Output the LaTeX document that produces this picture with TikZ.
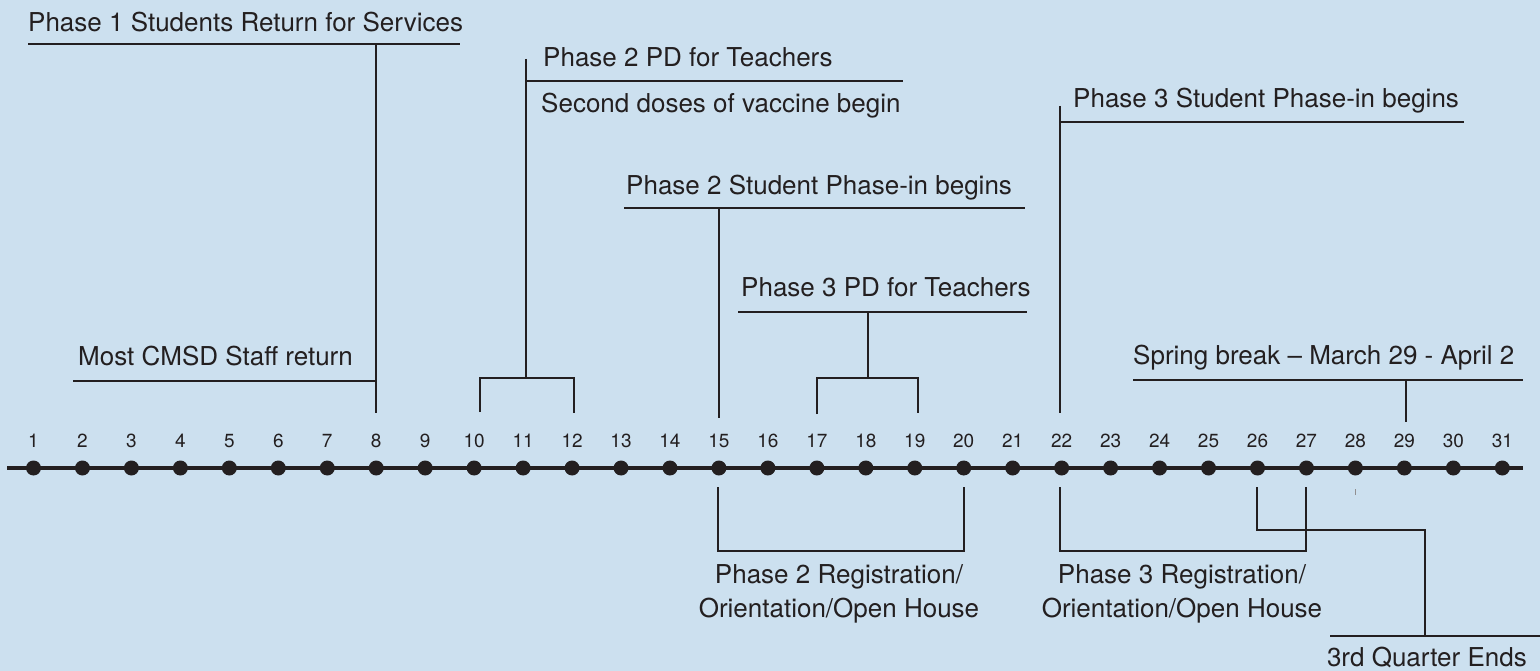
\documentclass[tikz,border=0pt]{standalone}
\usepackage{fontspec}
\setmainfont{TeX Gyre Heros}
\definecolor{bg}{HTML}{CCE0EF}
\definecolor{ink}{HTML}{231F20}
\begin{document}
\begin{tikzpicture}[x=1pt,y=-1pt,
  lbl/.style={font=\fontsize{26}{30}\selectfont, text=ink, inner sep=0pt, anchor=base west},
  lblc/.style={lbl, anchor=base},
  lble/.style={lbl, anchor=base east},
  num/.style={font=\fontsize{19}{21}\selectfont, text=ink, inner sep=0pt, anchor=base},
  ln/.style={draw=ink, line width=2.8pt},
  dot/.style={circle, fill=ink, minimum size=15pt, inner sep=0pt}]
\fill[bg] (0,0) rectangle (1540,671);
\useasboundingbox (0,0) rectangle (1540,671);

% timeline
\coordinate (tl) at (7,468); \coordinate (tr) at (1523,468);
\draw[ln, line width=3.2pt] (tl) -- (tr);
\foreach \i in {1,...,31} {
  \pgfmathsetmacro\xx{33.5+(\i-1)*48.96}
  \node[dot] (d\i) at (\xx,468) {};
  \node[num] (n\i) at (\xx,447) {\i};
}

% Phase 1
\node[lbl] (p1) at (28,32) {Phase 1 Students Return for Services};
\coordinate (p1a) at (28,44); \coordinate (p1b) at (460,44);
\coordinate (s8t) at (376,44); \coordinate (s8b) at (376,413);
\draw[ln] (p1a) -- (p1b);
\draw[ln] (s8t) -- (s8b);

% Most CMSD staff
\node[lbl] (ms) at (78,365) {Most CMSD Staff return};
\coordinate (msa) at (73,381); \coordinate (msb) at (376,381);
\draw[ln] (msa) -- (msb);

% Phase 2 PD
\node[lbl] (p2pd) at (543,67) {Phase 2 PD for Teachers};
\node[lbl] (sd) at (541,113) {Second doses of vaccine begin};
\coordinate (pdt) at (526,59); \coordinate (pdb) at (526,378);
\coordinate (pdl) at (526,81); \coordinate (pdr) at (903,81);
\draw[ln] (pdt) -- (pdb);
\draw[ln] (pdl) -- (pdr);
\coordinate (b1a) at (480,412); \coordinate (b1b) at (480,378);
\coordinate (b1c) at (574,378); \coordinate (b1d) at (574,413);
\draw[ln] (b1a) -- (b1b) -- (b1c) -- (b1d);

% Phase 2 Student
\node[lbl] (p2s) at (626,195) {Phase 2 Student Phase-in begins};
\coordinate (p2a) at (624,208); \coordinate (p2b) at (1025,208);
\coordinate (s15t) at (719,208); \coordinate (s15b) at (719,418);
\draw[ln] (p2a) -- (p2b);
\draw[ln] (s15t) -- (s15b);

% Phase 3 PD
\node[lbl] (p3pd) at (741,297) {Phase 3 PD for Teachers};
\coordinate (p3a) at (738,312); \coordinate (p3b) at (1027,312);
\coordinate (p3st) at (868,312); \coordinate (p3sb) at (868,378);
\draw[ln] (p3a) -- (p3b);
\draw[ln] (p3st) -- (p3sb);
\coordinate (b2a) at (817,414); \coordinate (b2b) at (817,378);
\coordinate (b2c) at (918,378); \coordinate (b2d) at (918,413);
\draw[ln] (b2a) -- (b2b) -- (b2c) -- (b2d);

% Phase 3 Student
\node[lbl] (p3s) at (1073,108) {Phase 3 Student Phase-in begins};
\coordinate (s22t) at (1060,106); \coordinate (s22b) at (1060,413);
\coordinate (p3c) at (1060,122); \coordinate (p3d) at (1464,122);
\draw[ln] (s22t) -- (s22b);
\draw[ln] (p3c) -- (p3d);

% Spring break
\node[lbl] (sb) at (1133,364) {Spring break – March 29 - April 2};
\coordinate (sba) at (1133,380); \coordinate (sbb) at (1523,380);
\coordinate (s29t) at (1406,380); \coordinate (s29b) at (1406,422);
\draw[ln] (sba) -- (sbb);
\draw[ln] (s29t) -- (s29b);

% Phase 2 registration
\coordinate (r2a) at (718,487); \coordinate (r2b) at (718,551);
\coordinate (r2c) at (964,551); \coordinate (r2d) at (964,487);
\draw[ln] (r2a) -- (r2b) -- (r2c) -- (r2d);
\node[lblc] (r2t1) at (839,583) {Phase 2 Registration/};
\node[lblc] (r2t2) at (839,617) {Orientation/Open House};

% Phase 3 registration
\coordinate (r3a) at (1060,487); \coordinate (r3b) at (1060,551);
\coordinate (r3c) at (1306,551); \coordinate (r3d) at (1306,487);
\draw[ln] (r3a) -- (r3b) -- (r3c) -- (r3d);
\node[lblc] (r3t1) at (1182,583) {Phase 3 Registration/};
\node[lblc] (r3t2) at (1182,617) {Orientation/Open House};

% 3rd quarter ends
\coordinate (q1) at (1257,487); \coordinate (q2) at (1257,530);
\coordinate (q3) at (1425,530); \coordinate (q4) at (1425,636);
\draw[ln] (q1) -- (q2) -- (q3) -- (q4);
\coordinate (qa) at (1330,636); \coordinate (qb) at (1540,636);
\draw[ln] (qa) -- (qb);
\node[lble] (qt) at (1527,666) {3rd Quarter Ends};

% small tick
\coordinate (tk1) at (1355,489); \coordinate (tk2) at (1355,495);
\draw[ink!50, line width=1pt] (tk1) -- (tk2);
\end{tikzpicture}
\end{document}
